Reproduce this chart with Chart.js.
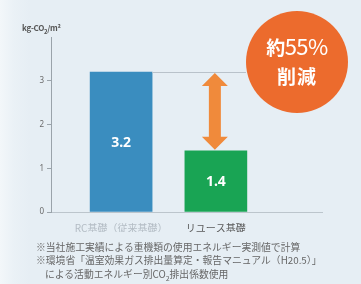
<!DOCTYPE html>
<html><head><meta charset="utf-8">
<script src="https://cdn.jsdelivr.net/npm/chart.js@4/dist/chart.umd.min.js"></script>
<style>
html,body{margin:0;padding:0;}
body{width:361px;height:284px;overflow:hidden;background:#e6eef4;font-family:"Noto Sans CJK JP","Noto Sans",sans-serif;}
#wrap{position:relative;width:361px;height:284px;background:linear-gradient(to right,#f3f7fa 0px,#eaf1f6 14px,#e6eef4 30px);}
canvas{position:absolute;left:0;top:0;}
.t{position:absolute;white-space:nowrap;}
#ytitle{left:22px;top:22px;font-size:8px;color:#555;font-weight:bold;letter-spacing:-0.3px;}
#circle{left:246px;top:11px;width:102px;height:102px;border-radius:50%;background:#ec6b2d;color:#fff;text-align:center;}
#c1{position:absolute;left:0;right:0;top:22px;font-size:22px;line-height:24px;letter-spacing:-0.5px;}
#c1 small{font-size:19px;font-weight:bold;}
#c2{position:absolute;left:0;right:0;top:54px;font-size:19px;line-height:22px;font-weight:bold;letter-spacing:1px;}
.note{font-size:9.8px;color:#666;letter-spacing:0px;}
</style></head>
<body><div id="wrap">
<canvas id="c" width="361" height="284"></canvas>
<div id="ytitle" class="t">kg-CO<sub style="font-size:6px">2</sub>/m²</div>
<div id="circle" class="t"><div id="c1"><small>約</small>55%</div><div id="c2">削減</div></div>
<div class="t note" style="left:36px;top:240px;">※当社施工実績による重機類の使用エネルギー実測値で計算</div>
<div class="t note" style="left:36px;top:253px;">※環境省「温室効果ガス排出量算定・報告マニュアル（H20.5）」</div>
<div class="t note" style="left:45px;top:267px;">による活動エネルギー別CO<sub style="font-size:7px">2</sub>排出係数使用</div>
</div>
<script>
const categories = ['RC基礎（従来基礎）', 'リユース基礎'];
const values = [3.2, 1.4];
const valueLabels = ['3.2', '1.4'];
const yTickValues = [0, 1, 2, 3];
const barColors = ['#3a8dbf', '#19a454'];
const categoryLabelColors = ['#b3bcc4', '#5a5a5a'];

const overlay = {
  id: 'overlay',
  afterDatasetsDraw(chart) {
    const ctx = chart.ctx;
    const ys = chart.scales.y;
    const meta = chart.getDatasetMeta(0);
    ctx.save();
    // reference line from top of first bar
    const b0 = meta.data[0];
    const yTop = ys.getPixelForValue(values[0]);
    ctx.strokeStyle = '#b9c2ca';
    ctx.lineWidth = 1;
    ctx.beginPath();
    ctx.moveTo(b0.x + b0.width / 2, Math.round(yTop) + 0.5);
    ctx.lineTo(246, Math.round(yTop) + 0.5);
    ctx.stroke();
    // double arrow over second bar
    const b1 = meta.data[1];
    const ax = b1.x - 1;
    const y1 = ys.getPixelForValue(values[0]) + 1;
    const y2 = ys.getPixelForValue(values[1]) - 1;
    const hw = 13, sw = 6, hl = 13;
    ctx.fillStyle = '#f08a3b';
    ctx.beginPath();
    ctx.moveTo(ax, y1);
    ctx.lineTo(ax + hw, y1 + hl);
    ctx.lineTo(ax + sw, y1 + hl);
    ctx.lineTo(ax + sw, y2 - hl);
    ctx.lineTo(ax + hw, y2 - hl);
    ctx.lineTo(ax, y2);
    ctx.lineTo(ax - hw, y2 - hl);
    ctx.lineTo(ax - sw, y2 - hl);
    ctx.lineTo(ax - sw, y1 + hl);
    ctx.lineTo(ax - hw, y1 + hl);
    ctx.closePath();
    ctx.fill();
    // value labels
    ctx.fillStyle = '#ffffff';
    ctx.font = 'bold 14px "Noto Sans", sans-serif';
    ctx.textAlign = 'center';
    ctx.textBaseline = 'middle';
    meta.data.forEach((bar, i) => {
      ctx.fillText(valueLabels[i], bar.x, (bar.y + bar.base) / 2 + 1);
    });
    ctx.restore();
  }
};

new Chart(document.getElementById('c'), {
  type: 'bar',
  data: {
    datasets: [{
      data: categories.map((c, i) => ({ x: i + 1, y: values[i] })),
      backgroundColor: barColors,
      barThickness: 62,
      borderWidth: 0
    }]
  },
  options: {
    responsive: false,
    devicePixelRatio: 1,
    animation: false,
    layout: { padding: { left: 0, right: 39, top: 37, bottom: 52 } },
    plugins: { legend: { display: false }, tooltip: { enabled: false } },
    scales: {
      x: {
        type: 'linear',
        offset: false,
        min: 0.26,
        max: 3.12,
        afterBuildTicks: (s) => { s.ticks = categories.map((c, i) => ({ value: i + 1 })); },
        afterFit: (s) => { s.height = 20; },
        grid: { display: false, offset: false },
        border: { display: true, color: '#bcc5cc', width: 1 },
        ticks: {
          autoSkip: false,
          maxRotation: 0,
          padding: 2,
          font: { size: 10, family: '"Noto Sans CJK JP", sans-serif' },
          color: (ctx) => categoryLabelColors[ctx.index],
          callback: (v) => categories[v - 1]
        }
      },
      y: {
        min: 0,
        max: 4,
        afterBuildTicks: (s) => { s.ticks = yTickValues.map(v => ({ value: v })); },
        afterFit: (s) => { s.width = 51; },
        grid: { drawOnChartArea: false, drawTicks: true, tickLength: 4, color: '#9aa3aa' },
        border: { display: true, color: '#9aa3aa', width: 1 },
        ticks: {
          padding: 3,
          font: { size: 8, family: '"Noto Sans", sans-serif' },
          color: '#6a6a6a'
        }
      }
    }
  },
  plugins: [overlay]
});
</script>
</body></html>
